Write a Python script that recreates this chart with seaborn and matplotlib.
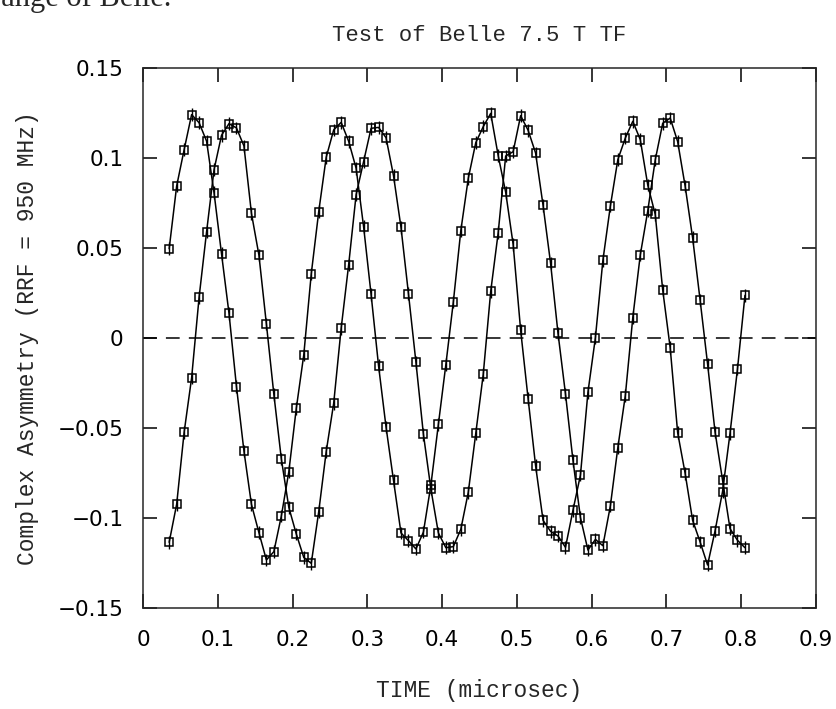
import numpy as np
import pandas as pd
import matplotlib
matplotlib.use('Agg')
import matplotlib.pyplot as plt
import seaborn as sns
from matplotlib.ticker import FuncFormatter, MultipleLocator

# Time of each sample (microsec)
time_us = [
    0.035, 0.045, 0.055, 0.065, 0.075, 0.085, 0.095, 0.105, 0.115, 0.125,
    0.135, 0.145, 0.155, 0.165, 0.175, 0.185, 0.195, 0.205, 0.215, 0.225,
    0.235, 0.245, 0.255, 0.265, 0.275, 0.285, 0.295, 0.305, 0.315, 0.325,
    0.335, 0.345, 0.355, 0.365, 0.375, 0.385, 0.395, 0.405, 0.415, 0.425,
    0.435, 0.445, 0.455, 0.465, 0.475, 0.485, 0.495, 0.505, 0.515, 0.525,
    0.535, 0.545, 0.555, 0.565, 0.575, 0.585, 0.595, 0.605, 0.615, 0.625,
    0.635, 0.645, 0.655, 0.665, 0.675, 0.685, 0.695, 0.705, 0.715, 0.725,
    0.735, 0.745, 0.755, 0.765, 0.775, 0.785, 0.795, 0.805,
]

# Real part of the complex asymmetry (starts at +0.05)
asym_real = [
    0.0496, 0.0844, 0.1046, 0.1241, 0.1196, 0.1094, 0.0807, 0.0468, 0.0137, -0.0270,
    -0.0628, -0.0924, -0.1081, -0.1233, -0.1187, -0.0989, -0.0743, -0.0391, -0.0094, 0.0356,
    0.0702, 0.1004, 0.1156, 0.1198, 0.1093, 0.0943, 0.0619, 0.0243, -0.0154, -0.0494,
    -0.0791, -0.1083, -0.1126, -0.1172, -0.1078, -0.0817, -0.0480, -0.0148, 0.0200, 0.0596,
    0.0887, 0.1085, 0.1174, 0.1248, 0.1013, 0.0810, 0.0520, 0.0044, -0.0337, -0.0709,
    -0.1013, -0.1074, -0.1100, -0.1163, -0.0957, -0.0761, -0.0302, 0.0002, 0.0431, 0.0733,
    0.0991, 0.1111, 0.1204, 0.1102, 0.0850, 0.0687, 0.0267, -0.0054, -0.0526, -0.0752,
    -0.1013, -0.1133, -0.1261, -0.1072, -0.0854, -0.0530, -0.0172, 0.0237,
]

# Imaginary part (starts at -0.113)
asym_imag = [
    -0.1135, -0.0924, -0.0524, -0.0222, 0.0226, 0.0589, 0.0935, 0.1126, 0.1191, 0.1167,
    0.1067, 0.0693, 0.0461, 0.0078, -0.0313, -0.0672, -0.0941, -0.1089, -0.1219, -0.1252,
    -0.0965, -0.0631, -0.0363, 0.0054, 0.0406, 0.0796, 0.0980, 0.1165, 0.1170, 0.1113,
    0.0902, 0.0615, 0.0246, -0.0135, -0.0535, -0.0839, -0.1083, -0.1165, -0.1159, -0.1063,
    -0.0857, -0.0530, -0.0202, 0.0259, 0.0585, 0.1011, 0.1035, 0.1235, 0.1154, 0.1028,
    0.0737, 0.0417, 0.0026, -0.0311, -0.0680, -0.0998, -0.1178, -0.1119, -0.1154, -0.0933,
    -0.0609, -0.0320, 0.0113, 0.0461, 0.0706, 0.0989, 0.1193, 0.1222, 0.1091, 0.0844,
    0.0557, 0.0211, -0.0144, -0.0522, -0.0789, -0.1059, -0.1124, -0.1165,
]

asym_err = 0.0035

df = pd.DataFrame({
    'time': time_us + time_us,
    'asym': asym_real + asym_imag,
    'part': ['Re'] * len(time_us) + ['Im'] * len(time_us),
})

sns.set_style('ticks')
plt.rcParams['font.family'] = ['DejaVu Sans']
plt.rcParams['axes.linewidth'] = 1.1

fig = plt.figure(figsize=(8.36, 7.09), dpi=100)
ax = fig.add_axes([143 / 836, 1 - 608 / 709, (816 - 143) / 836, (608 - 68) / 709])

# zero line
ax.axhline(0, color='black', lw=1.1, ls=(0, (9, 6)), zorder=1)

# error bars
ax.errorbar(df['time'], df['asym'], yerr=asym_err, fmt='none',
            ecolor='black', elinewidth=1.0, capsize=0, zorder=2)

# data with connecting curve
sns.lineplot(data=df, x='time', y='asym', hue='part',
             palette={'Re': 'black', 'Im': 'black'}, estimator=None, sort=False,
             lw=1.1, marker='s', ms=5.5, mfc='none', mec='black', mew=1.1,
             legend=False, ax=ax, zorder=3)

ax.set_xlim(0, 0.9)
ax.set_ylim(-0.15, 0.15)
ax.xaxis.set_major_locator(MultipleLocator(0.1))
ax.yaxis.set_major_locator(MultipleLocator(0.05))

def fmt(v, pos):
    v = round(v, 4)
    if v == 0:
        return '0'
    return f'{v:g}'.replace('-', '\u2212')

ax.xaxis.set_major_formatter(FuncFormatter(fmt))
ax.yaxis.set_major_formatter(FuncFormatter(fmt))
ax.tick_params(direction='in', length=10, width=1.1, top=True, right=True,
               labelsize=15.5, colors='black')
ax.tick_params(axis='x', pad=16)
ax.tick_params(axis='y', pad=14)
ax.minorticks_off()

lab_font = dict(family='Liberation Mono', size=16.5)
ax.set_xlabel('TIME (microsec)', fontdict=lab_font, va='center')
ax.set_ylabel('Complex Asymmetry (RRF = 950 MHz)', fontdict=lab_font, va='center')
ax.xaxis.set_label_coords(0.5, -0.152)
ax.yaxis.set_label_coords(-0.172, 0.5)
ax.text(0.5, 1.061, 'Test of Belle 7.5 T TF', transform=ax.transAxes,
        family='Liberation Mono', size=16, ha='center', va='center')

# fragment of the surrounding document text, cut off by the page edge
fig.text(171 / 836, 1 - 6 / 709, 'range of Belle.', family='Liberation Serif',
         size=22, ha='right', va='baseline')

fig.savefig('out.png', dpi=100)
